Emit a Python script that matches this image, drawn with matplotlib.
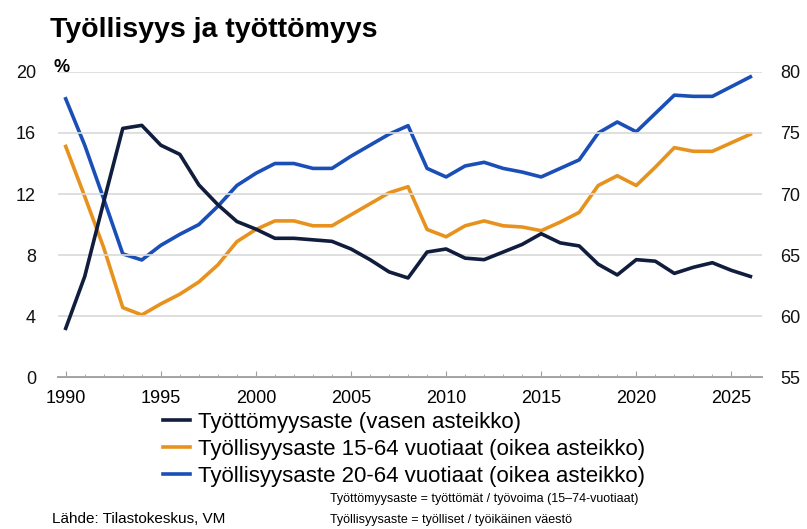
import matplotlib.pyplot as plt
from matplotlib.ticker import MultipleLocator

plt.rcParams["font.family"] = ["Liberation Sans", "DejaVu Sans"]

vuodet = list(range(1990, 2027))

tyottomyys = [3.2, 6.6, 11.5, 16.3, 16.5, 15.2, 14.6, 12.6, 11.3, 10.2,
              9.7, 9.1, 9.1, 9.0, 8.9, 8.4, 7.7, 6.9, 6.5, 8.2,
              8.4, 7.8, 7.7, 8.2, 8.7, 9.4, 8.8, 8.6, 7.4, 6.7,
              7.7, 7.6, 6.8, 7.2, 7.5, 7.0, 6.6]

tyollisyys_15_64 = [73.9, 69.8, 65.6, 60.7, 60.1, 61.0, 61.8, 62.8, 64.2, 66.1,
                    67.1, 67.8, 67.8, 67.4, 67.4, 68.3, 69.2, 70.1, 70.6, 67.1,
                    66.5, 67.4, 67.8, 67.4, 67.3, 67.0, 67.7, 68.5, 70.7, 71.5,
                    70.7, 72.2, 73.8, 73.5, 73.5, 74.2, 74.9]

tyollisyys_20_64 = [77.8, 74.0, 69.6, 65.1, 64.6, 65.8, 66.7, 67.5, 69.0, 70.7,
                    71.7, 72.5, 72.5, 72.1, 72.1, 73.1, 74.0, 74.9, 75.6, 72.1,
                    71.4, 72.3, 72.6, 72.1, 71.8, 71.4, 72.1, 72.8, 75.0, 75.9,
                    75.1, 76.6, 78.1, 78.0, 78.0, 78.8, 79.6]

nimet = ["Työttömyysaste (vasen asteikko)",
         "Työllisyysaste 15-64 vuotiaat (oikea asteikko)",
         "Työllisyysaste 20-64 vuotiaat (oikea asteikko)"]

c_tumma = "#111d3c"
c_oranssi = "#e8921e"
c_sininen = "#1b4fb8"

fig = plt.figure(figsize=(8.07, 5.29), dpi=100)
ax = fig.add_axes([0.072, 0.287, 0.872, 0.577])
ax2 = ax.twinx()

l1, = ax.plot(vuodet, tyottomyys, color=c_tumma, lw=2.6, zorder=3)
l2, = ax2.plot(vuodet, tyollisyys_15_64, color=c_oranssi, lw=2.6)
l3, = ax2.plot(vuodet, tyollisyys_20_64, color=c_sininen, lw=2.6)
ax.set_zorder(2)
ax.patch.set_visible(False)

ax.set_xlim(1989.6, 2026.6)
ax.set_ylim(0, 20)
ax2.set_ylim(55, 80)
ax.set_yticks(range(0, 21, 4))
ax2.set_yticks(range(55, 81, 5))
ax.set_xticks(range(1990, 2026, 5))
ax.xaxis.set_minor_locator(MultipleLocator(1))

ax.grid(axis="y", color="#d9d9d9", lw=1.2)
ax.set_axisbelow(True)
for a in (ax, ax2):
    for s in ("top", "left", "right"):
        a.spines[s].set_visible(False)
    a.spines["bottom"].set_color("#a0a0a0")
    a.spines["bottom"].set_linewidth(1.2)

ax.tick_params(axis="y", length=0, pad=16, labelsize=13, labelcolor="#111111")
ax2.tick_params(axis="y", length=0, pad=13, labelsize=13, labelcolor="#111111")
ax.tick_params(axis="x", which="both", direction="in", color="#a0a0a0",
               labelsize=13, pad=9)
ax.tick_params(axis="x", which="major", length=4)
ax.tick_params(axis="x", which="minor", length=2.5)

fig.text(0.062, 0.943, "Työllisyys ja työttömyys", fontsize=20.5, fontweight="bold",
         ha="left", va="center")
fig.text(0.066, 0.872, "%", fontsize=13, fontweight="bold", ha="left", va="center")

fig.legend([l1, l2, l3], nimet, loc="upper left", bbox_to_anchor=(0.191, 0.238),
           frameon=False, fontsize=16, handlelength=1.22, handletextpad=0.36,
           labelspacing=0.26, borderaxespad=0)

fig.text(0.064, 0.019, "Lähde: Tilastokeskus, VM", fontsize=11, ha="left", va="center")
fig.text(0.409, 0.057, "Työttömyysaste = työttömät / työvoima (15–74-vuotiaat)",
         fontsize=9, ha="left", va="center")
fig.text(0.409, 0.017, "Työllisyysaste = työlliset / työikäinen väestö",
         fontsize=9, ha="left", va="center")

fig.savefig("out.png", dpi=100)
